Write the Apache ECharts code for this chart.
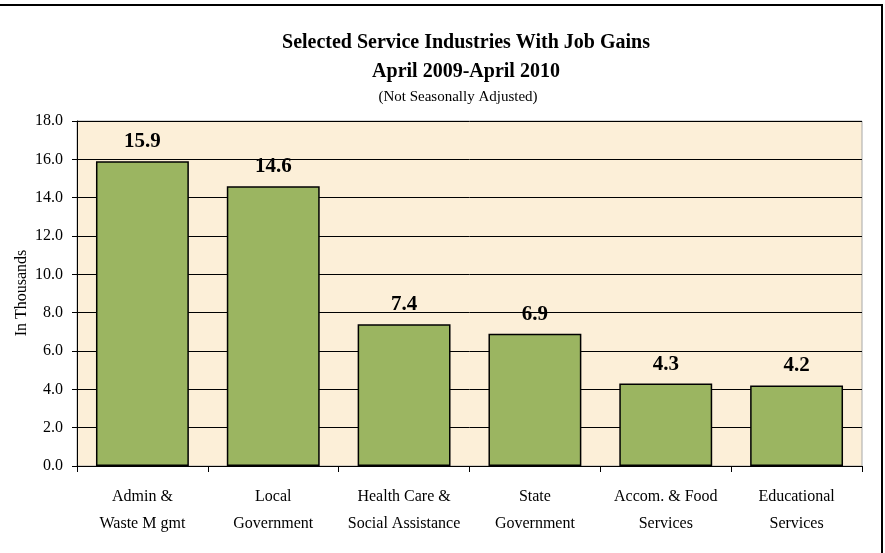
<!DOCTYPE html>
<html>
<head>
<meta charset="utf-8">
<script src="https://cdn.jsdelivr.net/npm/echarts@6/dist/echarts.min.js"></script>
<style>html,body{margin:0;padding:0;background:#fff;}#c{width:885px;height:553px;}</style>
</head>
<body>
<div id="c"></div>
<script>
const categories = ['Admin &\nWaste M gmt', 'Local\nGovernment', 'Health Care &\nSocial Assistance', 'State\nGovernment', 'Accom. & Food\nServices', 'Educational\nServices'];
const values = [15.9, 14.6, 7.4, 6.9, 4.3, 4.2];
const titleLines = ['Selected Service Industries With Job Gains', 'April 2009-April 2010'];
const subtitle = '(Not Seasonally Adjusted)';
const yName = 'In Thousands';

const serif = '"Liberation Serif", "DejaVu Serif", serif';
const chart = echarts.init(document.getElementById('c'));
chart.setOption({
  animation: false,
  backgroundColor: '#fff',
  grid: {
    left: 77, right: 23, top: 121, bottom: 87,
    show: true,
    backgroundColor: '#fcefd8',
    borderColor: '#a8a8a8',
    borderWidth: 1
  },
  graphic: [
    { type: 'rect', shape: { x: -2, y: 5, width: 884, height: 560 }, style: { fill: 'none', stroke: '#000', lineWidth: 2 }, z: 100 },
    { type: 'text', x: 466, y: 43, style: { text: titleLines[0], font: 'bold 20px ' + serif, fill: '#000', textAlign: 'center', textVerticalAlign: 'middle' } },
    { type: 'text', x: 466, y: 72, style: { text: titleLines[1], font: 'bold 20px ' + serif, fill: '#000', textAlign: 'center', textVerticalAlign: 'middle' } },
    { type: 'text', x: 458, y: 97, style: { text: subtitle, font: '15px ' + serif, fill: '#000', textAlign: 'center', textVerticalAlign: 'middle' } },
    { type: 'text', x: 22, y: 293, rotation: Math.PI / 2, style: { text: yName, font: '16px ' + serif, fill: '#000', textAlign: 'center', textVerticalAlign: 'middle' } }
  ],
  xAxis: {
    type: 'category',
    data: categories,
    axisLine: { show: true, lineStyle: { color: '#000', width: 1 } },
    axisTick: { show: true, length: 6, lineStyle: { color: '#000' } },
    axisLabel: { color: '#000', fontFamily: serif, fontSize: 16, lineHeight: 27, margin: 17, interval: 0 }
  },
  yAxis: {
    type: 'value',
    min: 0, max: 18, interval: 2,
    axisLine: { show: true, lineStyle: { color: '#000', width: 1 } },
    axisTick: { show: true, length: 5, lineStyle: { color: '#000' } },
    axisLabel: { color: '#000', fontFamily: serif, fontSize: 16, margin: 14, formatter: v => v.toFixed(1) },
    splitLine: { show: true, lineStyle: { color: '#000', width: 1 } }
  },
  series: [{
    type: 'bar',
    data: values,
    barCategoryGap: '29%',
    itemStyle: { color: '#9bb561', borderColor: '#000', borderWidth: 1.5 },
    label: {
      show: true, position: 'top', distance: 9,
      color: '#000', fontFamily: serif, fontWeight: 'bold', fontSize: 21,
      formatter: p => p.value.toFixed(1)
    }
  }]
});
</script>
</body>
</html>
